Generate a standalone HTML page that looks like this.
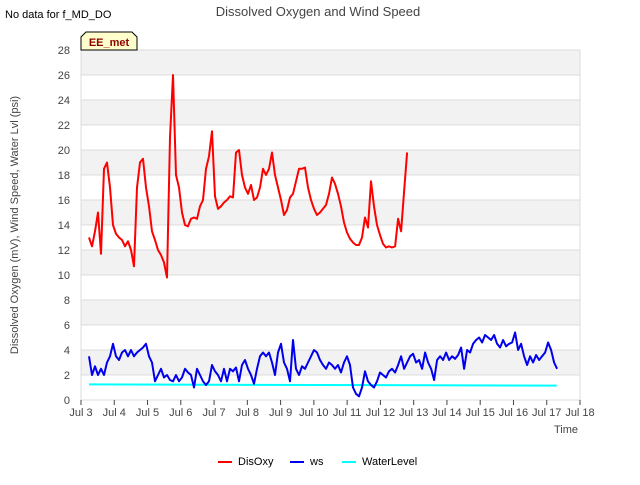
<!DOCTYPE html>
<html><head><meta charset="utf-8"><style>
body{margin:0;background:#fff;font-family:"Liberation Sans","DejaVu Sans",sans-serif}
</style></head><body>
<svg id="c" width="640" height="480" xmlns="http://www.w3.org/2000/svg" font-family="Liberation Sans, DejaVu Sans, sans-serif"></svg>
<script>
const xTicks=["Jul 3","Jul 4","Jul 5","Jul 6","Jul 7","Jul 8","Jul 9","Jul 10","Jul 11","Jul 12","Jul 13","Jul 14","Jul 15","Jul 16","Jul 17","Jul 18"];
const yTicks=[0,2,4,6,8,10,12,14,16,18,20,22,24,26,28];
const disoxyStart=3.24, disoxyStep=0.0902;
const disoxy=[13,12.3,13.5,15,11.7,18.5,19,17,14,13.3,13,12.8,12.3,12.7,12,10.7,17,19,19.3,17,15.5,13.5,12.8,12,11.6,11,9.8,21,26,18,17,15,14,13.9,14.5,14.6,14.5,15.5,16,18.5,19.5,21.5,16.3,15.3,15.5,15.8,16,16.3,16.2,19.8,20,18,17,16.5,17.2,16,16.2,17,18.5,18,18.5,19.8,18,17,16,14.8,15.2,16.2,16.5,17.5,18.5,18.5,18.6,17,16,15.3,14.8,15,15.3,15.6,16.5,17.8,17.3,16.5,15.5,14.2,13.4,12.9,12.6,12.4,12.4,13,14.6,13.8,17.5,15.5,14,13.2,12.5,12.2,12.3,12.2,12.3,14.5,13.5,16.7,19.8];
const wsStart=3.24, wsStep=0.0902;
const ws=[3.5,2,2.7,2,2.5,2,3,3.5,4.5,3.5,3.2,3.8,4,3.5,4,3.5,3.8,4,4.2,4.5,3.5,3,1.5,2,2.5,1.8,2,1.6,1.5,2,1.5,1.8,2.5,2.2,2,1,2.5,2,1.5,1.2,1.5,2.8,2.3,2,1.5,2.5,1.5,2.5,2.3,2.6,1.5,2.8,3.2,2.5,2,1.3,2.5,3.5,3.8,3.5,3.8,3,2,3.8,4.5,3,2.5,1.5,4.8,2.5,2,2.7,2.5,3,3.5,4,3.8,3.2,2.8,2.5,3,2.8,2.5,2.8,2.2,3,3.5,2.8,1,0.5,0.3,1,2.3,1.5,1.2,1,1.5,2.2,2,1.8,2.3,2.5,2.2,2.8,3.5,2.5,3,3.5,3.7,3,3.2,2.5,3.8,3,2.5,1.6,3.2,3.5,3.2,3.8,3.2,3.5,3.3,3.6,4.2,2.5,4,3.8,4.5,4.8,5,4.6,5.2,5,4.8,5.2,4.5,4.2,4.8,4.3,4.5,4.6,5.4,4,4.5,3.5,2.8,3.5,3,3.6,3.2,3.5,3.8,4.6,4,3,2.5];
const waterDays=[3.24,17.3];
const waterVals=[1.25,1.15];

const L=81,R=580,T=50,B=400;
const X=d=>L+(d-3)*(R-L)/15;
const Y=v=>B-v*(B-T)/28;
const svg=document.getElementById('c');
const NS="http://www.w3.org/2000/svg";
function mk(t,a,txt){const e=document.createElementNS(NS,t);for(const k in a)e.setAttribute(k,a[k]);if(txt!==undefined)e.textContent=txt;svg.appendChild(e);return e;}
let e;
for(let i=0;i<yTicks.length-1;i++){
  if(i%2===1){e=mk('rect',{x:L,y:Y(yTicks[i+1]),width:R-L,height:Y(yTicks[i])-Y(yTicks[i+1]),fill:'#f2f2f2'});
  
  }
}
yTicks.forEach(v=>{
  e=mk('line',{x1:L,x2:R,y1:Y(v),y2:Y(v),stroke:'#dcdcdc','stroke-width':1});
  
  
  e=mk('text',{x:L-11,y:Y(v)+4,'text-anchor':'end','font-size':11,fill:'#444'},v);
  
  
});
e=mk('rect',{x:L,y:T,width:R-L,height:B-T,fill:'none',stroke:'#dcdcdc','stroke-width':1});


xTicks.forEach((t,i)=>{
  e=mk('line',{x1:X(3+i),x2:X(3+i),y1:B,y2:B+5,stroke:'#444','stroke-width':1});
  
  
  e=mk('text',{x:X(3+i),y:B+16,'text-anchor':'middle','font-size':11,fill:'#444'},t);
  
  
});
function line(days,vals,color,name){
  const p=vals.map((v,i)=>X(days(i)).toFixed(1)+','+Y(v).toFixed(1)).join(' ');
  const el=mk('polyline',{points:p,fill:'none',stroke:color,'stroke-width':2,'stroke-linejoin':'round'});
  
  
}
line(i=>waterDays[i],waterVals,'#00ffff','waterlevel-line');
line(i=>wsStart+i*wsStep,ws,'#0000ee','ws-line');
line(i=>disoxyStart+i*disoxyStep,disoxy,'#ff0000','disoxy-line');

e=mk('text',{x:318,y:16,'text-anchor':'middle','font-size':13,fill:'#444'},'Dissolved Oxygen and Wind Speed');


e=mk('text',{x:5,y:18,'font-size':11,fill:'#000'},'No data for f_MD_DO');


e=mk('text',{x:578,y:433,'text-anchor':'end','font-size':11,fill:'#444'},'Time');


e=mk('text',{x:18,y:225,'text-anchor':'middle','font-size':11,fill:'#444',transform:'rotate(-90 18 225)'},'Dissolved Oxygen (mV), Wind Speed, Water Lvl (psi)');


e=mk('path',{d:'M81,50 L81,37 L86,32 L132,32 L137,37 L137,50 Z',fill:'#ffffcc',stroke:'#000','stroke-width':1});


e=mk('text',{x:109,y:46,'text-anchor':'middle','font-size':11,'font-weight':'bold',fill:'#8b0000'},'EE_met');


const leg=[['DisOxy','#ff0000',218],['ws','#0000ee',290],['WaterLevel','#00ffff',342]];
leg.forEach(([n,c,x])=>{
  e=mk('line',{x1:x,x2:x+14,y1:462,y2:462,stroke:c,'stroke-width':2});
  
  
  e=mk('text',{x:x+20,y:465,'font-size':11,fill:'#000'},n);
  
  
});
</script>
</body></html>
